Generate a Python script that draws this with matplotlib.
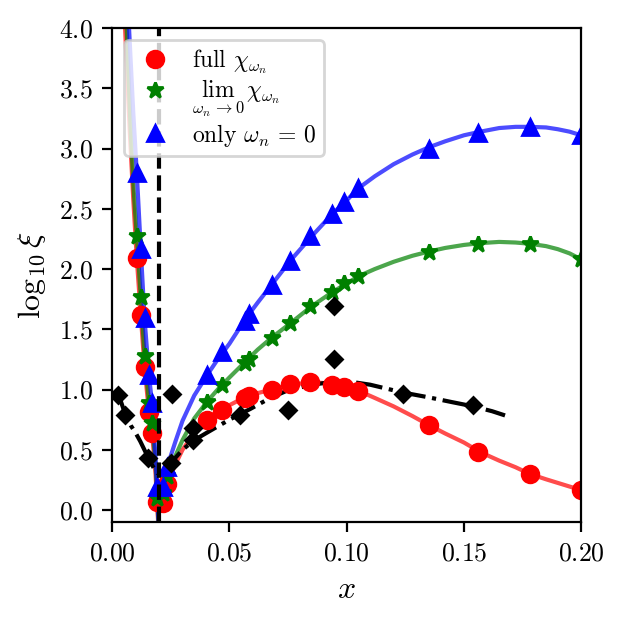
import matplotlib
matplotlib.use("Agg")
from matplotlib import pyplot as plt

plt.rcParams['font.family'] = 'serif'
plt.rcParams['font.serif'] = ['cmr10']
plt.rcParams['mathtext.fontset'] = 'cm'
plt.rcParams['axes.formatter.use_mathtext'] = True
plt.rcParams['font.size'] = 9.3

# measured points, shared x grid for the three series
x_pts = [0.0105, 0.0122, 0.0138, 0.0157, 0.0172, 0.0190,
         0.0218, 0.0235, 0.0405, 0.0468, 0.0565, 0.0585, 0.0680, 0.0757,
         0.0845, 0.0937, 0.0990, 0.1050, 0.1350, 0.1560, 0.1780, 0.2000]
full_pts = [2.09, 1.62, 1.19, 0.81, 0.64, 0.07,
            0.06, 0.22, 0.75, 0.83, 0.93, 0.95, 1.00, 1.05,
            1.06, 1.04, 1.02, 0.99, 0.705, 0.48, 0.30, 0.166]
lim_pts = [2.27, 1.77, 1.28, 0.89, 0.72, 0.10,
           0.14, 0.28, 0.90, 1.04, 1.22, 1.25, 1.43, 1.55,
           1.69, 1.81, 1.88, 1.94, 2.14, 2.21, 2.21, 2.08]
zero_pts = [2.80, 2.17, 1.59, 1.12, 0.89, 0.19,
            0.19, 0.36, 1.12, 1.31, 1.57, 1.63, 1.87, 2.07,
            2.27, 2.46, 2.56, 2.67, 3.00, 3.13, 3.18, 3.11]

# fitted curves, left branch (x < 0.02)
full_fit_xl = [0.0055, 0.0075, 0.0090, 0.0105, 0.0122, 0.0138, 0.0157, 0.0172, 0.0185, 0.0196]
full_fit_yl = [4.00, 3.15, 2.58, 2.09, 1.62, 1.19, 0.81, 0.60, 0.30, -0.10]
lim_fit_xl = [0.0062, 0.0080, 0.0092, 0.0105, 0.0122, 0.0138, 0.0157, 0.0172, 0.0186, 0.0197]
lim_fit_yl = [4.00, 3.10, 2.65, 2.27, 1.77, 1.28, 0.89, 0.68, 0.35, -0.10]
zero_fit_xl = [0.0072, 0.0090, 0.0105, 0.0122, 0.0138, 0.0157, 0.0172, 0.0186, 0.0198]
zero_fit_yl = [4.00, 3.30, 2.80, 2.17, 1.59, 1.12, 0.85, 0.40, -0.10]

# fitted curves, right branch (x > 0.02)
fit_xr = [0.021, 0.0235, 0.027, 0.030, 0.035, 0.0405, 0.045, 0.050, 0.057, 0.062,
          0.068, 0.076, 0.085, 0.094, 0.100, 0.105, 0.112, 0.120, 0.128, 0.135,
          0.142, 0.150, 0.157, 0.165, 0.172, 0.178, 0.185, 0.190, 0.195, 0.200]
full_fit_yr = [0.00, 0.22, 0.38, 0.50, 0.64, 0.75, 0.81, 0.87, 0.94, 0.97,
               1.00, 1.04, 1.06, 1.05, 1.02, 0.99, 0.93, 0.86, 0.78, 0.705,
               0.635, 0.56, 0.48, 0.41, 0.355, 0.30, 0.255, 0.225, 0.195, 0.166]
lim_fit_yr = [0.05, 0.28, 0.45, 0.58, 0.76, 0.90, 1.00, 1.10, 1.235, 1.33,
              1.43, 1.55, 1.69, 1.81, 1.88, 1.94, 2.00, 2.06, 2.11, 2.145,
              2.175, 2.20, 2.215, 2.225, 2.22, 2.21, 2.19, 2.165, 2.13, 2.08]
zero_fit_yr = [0.10, 0.36, 0.57, 0.74, 0.95, 1.12, 1.25, 1.38, 1.59, 1.72,
               1.87, 2.07, 2.27, 2.46, 2.57, 2.67, 2.77, 2.87, 2.95, 3.01,
               3.06, 3.11, 3.14, 3.17, 3.18, 3.18, 3.175, 3.16, 3.14, 3.11]

# reference data (black)
ref_x = [0.0027, 0.0055, 0.0155, 0.0250, 0.0254, 0.0346, 0.0346, 0.0546, 0.0750,
         0.0947, 0.0947, 0.1240, 0.1540]
ref_y = [0.955, 0.79, 0.43, 0.39, 0.96, 0.58, 0.68, 0.79, 0.83, 1.25, 1.69, 0.96, 0.87]
ref_fit_xl = [0.0027, 0.0055, 0.0080, 0.0100, 0.0120, 0.0140, 0.0160, 0.0180, 0.0195]
ref_fit_yl = [0.96, 0.80, 0.70, 0.64, 0.57, 0.49, 0.41, 0.34, 0.30]
ref_fit_xr = [0.0215, 0.0250, 0.0300, 0.0350, 0.0420, 0.0500, 0.0590, 0.0674, 0.0745, 0.0850,
              0.0950, 0.1015, 0.1100, 0.1240, 0.1350, 0.1450, 0.1540, 0.1620, 0.1675]
ref_fit_yr = [0.31, 0.39, 0.50, 0.58, 0.66, 0.75, 0.84, 0.93, 0.99, 1.04,
              1.065, 1.065, 1.04, 0.975, 0.935, 0.895, 0.86, 0.82, 0.785]

x_crit = 0.02

fig = plt.figure(figsize=(623 / 200, 623 / 200), dpi=200)
ax = fig.add_subplot(111)
fig.subplots_adjust(left=0.18, right=0.933, bottom=0.162, top=0.955)

for xs, ys, c in [(full_fit_xl, full_fit_yl, 'r'), (lim_fit_xl, lim_fit_yl, 'g'),
                  (zero_fit_xl, zero_fit_yl, 'b')]:
    ax.plot(xs, ys, color=c, lw=1.5, alpha=0.7)
for ys, c in [(full_fit_yr, 'r'), (lim_fit_yr, 'g'), (zero_fit_yr, 'b')]:
    ax.plot(fit_xr, ys, color=c, lw=1.5, alpha=0.7)

ax.plot(ref_fit_xl, ref_fit_yl, 'k-.', lw=1.5)
ax.plot(ref_fit_xr, ref_fit_yr, 'k-.', lw=1.5)

ax.plot(x_pts, full_pts, 'ro', ms=6, ls='none', label=r'full $\chi_{\omega_n}$')
ax.plot(x_pts, lim_pts, 'g*', ms=6, ls='none', label=r'$\lim_{\omega_n \to 0}\,\chi_{\omega_n}$')
ax.plot(x_pts, zero_pts, 'b^', ms=6, ls='none', label=r'only $\omega_n\, =\, 0$')
ax.plot(ref_x, ref_y, 'kD', ms=4, ls='none')

ax.axvline(x_crit, color='k', ls='--', lw=1.5)

ax.set_xlim(0, 0.2)
ax.set_ylim(-0.1, 4.0)
ax.set_xticks([0.0, 0.05, 0.10, 0.15, 0.20])
ax.set_yticks([0.0, 0.5, 1.0, 1.5, 2.0, 2.5, 3.0, 3.5, 4.0])
ax.set_xlabel(r'$x$', fontsize=11.5)
ax.set_ylabel(r'$\log_{10}\xi$', fontsize=11.5)
ax.legend(loc='upper left', fontsize=8.5, labelspacing=0.1, handletextpad=0.6,
          borderpad=0.3)

plt.savefig('out.png', dpi=200)
